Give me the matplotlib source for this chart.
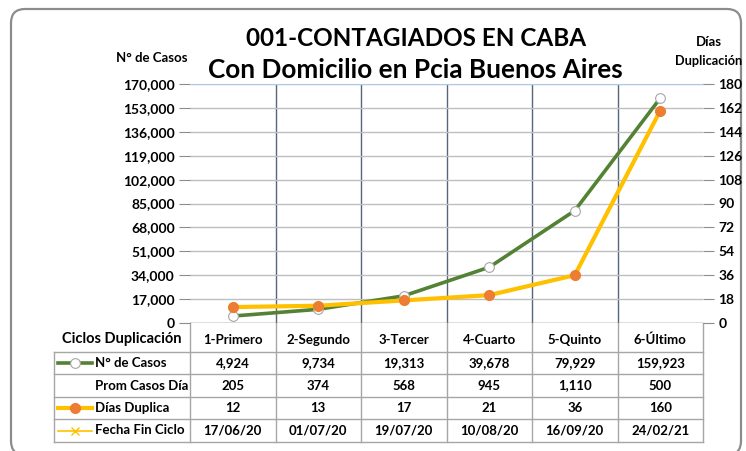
import matplotlib
matplotlib.use("Agg")
import matplotlib.pyplot as plt
from matplotlib.patches import FancyBboxPatch
from matplotlib.ticker import FuncFormatter, MultipleLocator

# data
ciclos = ["1-Primero", "2-Segundo", "3-Tercer", "4-Cuarto", "5-Quinto", "6-Último"]
casos = [4924, 9734, 19313, 39678, 79929, 159923]
prom_casos_dia = [205, 374, 568, 945, 1110, 500]
dias_duplica = [12, 13, 17, 21, 36, 160]
fecha_fin = ["17/06/20", "01/07/20", "19/07/20", "10/08/20", "16/09/20", "24/02/21"]

plt.rcParams['font.family'] = ['Lato', 'DejaVu Sans']
plt.rcParams['font.weight'] = 'bold'

W, H = 746, 451
fig = plt.figure(figsize=(W/100, H/100), dpi=100)

# pixel layout of plot area
px_left, px_right, px_top, px_bot = 190, 703, 84, 323
col_w = (px_right - px_left) / len(ciclos)

# background / frame axes in pixel coords
bg = fig.add_axes([0, 0, 1, 1])
bg.set_xlim(0, W)
bg.set_ylim(H, 0)
bg.axis('off')
bg.add_patch(FancyBboxPatch((11, 9), 730, 446, boxstyle="round,pad=0,rounding_size=14",
                            fc='white', ec='#8c8c8c', lw=1.6))

ax = fig.add_axes([px_left/W, 1-px_bot/H, (px_right-px_left)/W, (px_bot-px_top)/H])
ax.set_facecolor('none')
x = list(range(len(ciclos)))
ax.set_xlim(-0.5, len(ciclos)-0.5)
ax.set_ylim(0, 170000)
ax.yaxis.set_major_locator(MultipleLocator(17000))
ax.yaxis.set_major_formatter(FuncFormatter(lambda v, p: f"{int(v):,}"))
ax.grid(axis='y', color='#bfbfbf', lw=1)
ax.set_xticks([i+0.5 for i in x[:-1]])
ax.set_xticklabels([])
ax.tick_params(axis='x', length=0)
ax.grid(axis='x', color='#55657a', lw=1)
ax.tick_params(axis='y', length=8, color='#8c8c8c', labelsize=10, pad=3)
for s in ['left', 'right', 'bottom']:
    ax.spines[s].set_visible(False)
ax.spines['top'].set_color('#b4c7e7')
ax.axhline(0, color='#8c8c8c', lw=1)
for lbl in ax.get_yticklabels():
    lbl.set_fontweight('bold')
ax.plot(x, casos, color='#548235', lw=2.6, marker='o', ms=7, mfc='white',
        mec='#a6a6a6', mew=0.8, zorder=3, clip_on=False)

ax2 = ax.twinx()
ax2.set_ylim(0, 180)
ax2.yaxis.set_major_locator(MultipleLocator(18))
ax2.tick_params(axis='y', length=8, color='#8c8c8c', labelsize=10, pad=3)
for s in ['left', 'right', 'bottom', 'top']:
    ax2.spines[s].set_visible(False)
for lbl in ax2.get_yticklabels():
    lbl.set_fontweight('bold')
ax2.plot(x, dias_duplica, color='#ffc000', lw=3, marker='o', ms=7, mfc='#ed7d31',
         mec='#ed7d31', zorder=3, clip_on=False)

# titles
bg.text(416, 38, "001-CONTAGIADOS EN CABA", ha='center', va='center', fontsize=17.5, fontweight='bold')
bg.text(415, 70, "Con Domicilio en Pcia Buenos Aires", ha='center', va='center', fontsize=18.8, fontweight='bold')
bg.text(152, 58, "N° de Casos", ha='center', va='center', fontsize=9.5, fontweight='bold')
bg.text(709, 42, "Días", ha='center', va='center', fontsize=9.5, fontweight='bold')
bg.text(709, 61, "Duplicación", ha='center', va='center', fontsize=9.2, fontweight='bold')

# data table
row_edges = [323, 352, 374, 397, 419, 442]
tbl_left = 54
gc = '#a6a6a6'
for y in row_edges[1:]:
    bg.plot([tbl_left, px_right], [y, y], color=gc, lw=1)
bg.plot([tbl_left, tbl_left], [row_edges[1], row_edges[-1]], color=gc, lw=1)
for i in range(len(ciclos)+1):
    xx = px_left + i*col_w
    bg.plot([xx, xx], [row_edges[0], row_edges[-1]], color=gc, lw=1)

rows = [
    ciclos,
    [f"{v:,}" for v in casos],
    [f"{v:,}" for v in prom_casos_dia],
    [str(v) for v in dias_duplica],
    fecha_fin,
]
for r, vals in enumerate(rows):
    yc = (row_edges[r] + row_edges[r+1]) / 2 + (2 if r == 0 else 0)
    for i, v in enumerate(vals):
        bg.text(px_left + (i+0.5)*col_w, yc, v, ha='center', va='center', fontsize=9.5, fontweight='bold')

bg.text(181, (row_edges[0]+row_edges[1])/2 + 2, "Ciclos Duplicación", ha='right', va='center',
        fontsize=10.5, fontweight='bold')
labels = ["N° de Casos", "Prom Casos Día", "Días Duplica", "Fecha Fin Ciclo"]
for r, lab in enumerate(labels, start=1):
    yc = (row_edges[r] + row_edges[r+1]) / 2
    bg.text(95, yc, lab, ha='left', va='center', fontsize=9.5, fontweight='bold')

# legend keys
yk = (row_edges[1] + row_edges[2]) / 2
bg.plot([58, 92], [yk, yk], color='#548235', lw=2.6)
bg.plot([75], [yk], marker='o', ms=7, mfc='white', mec='#a6a6a6', mew=0.8)
yk = (row_edges[3] + row_edges[4]) / 2
bg.plot([58, 92], [yk, yk], color='#ffc000', lw=3)
bg.plot([75], [yk], marker='o', ms=7, mfc='#ed7d31', mec='#ed7d31')
yk = (row_edges[4] + row_edges[5]) / 2
bg.plot([58, 92], [yk, yk], color='#ffc000', lw=1.2)
bg.plot([75], [yk], marker='x', ms=6, color='#ffc000', mew=1)

fig.savefig("out.png", dpi=100)
